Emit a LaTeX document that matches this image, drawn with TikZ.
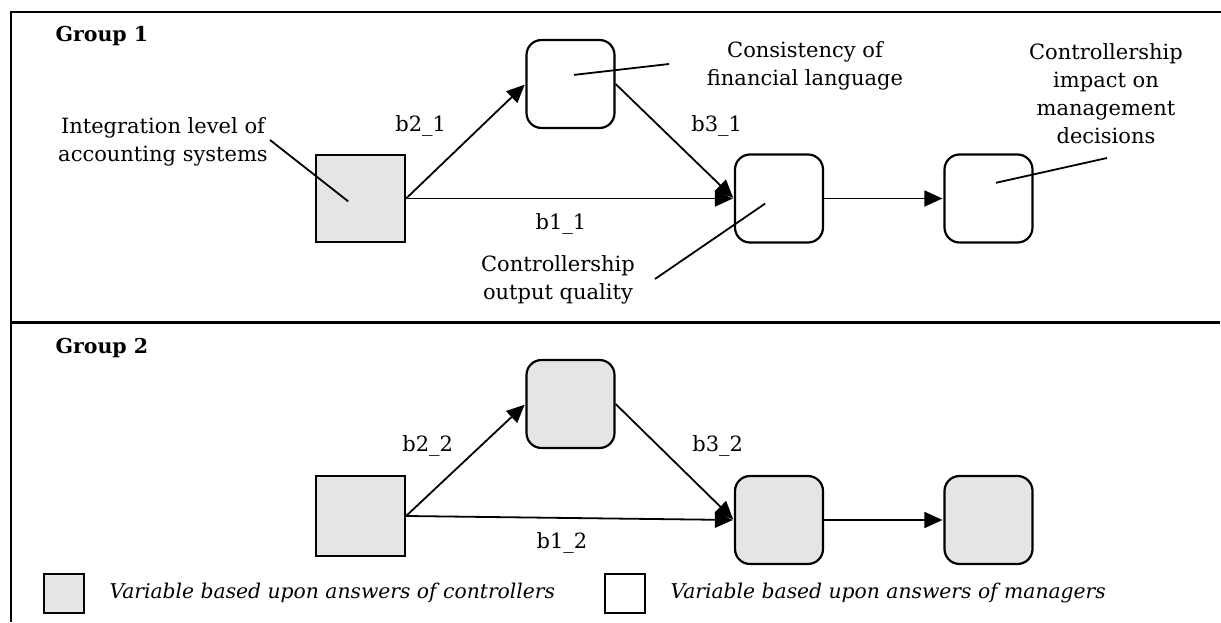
\documentclass[tikz,border=0pt]{standalone}
\usepackage{fontspec}
\setmainfont{DejaVu Serif}
\usetikzlibrary{arrows.meta}
\usetikzlibrary{positioning}

\begin{document}
\begin{tikzpicture}[x=1pt,y=-1pt,shorten >=1pt,on grid,
    font=\fontsize{21}{28}\selectfont,
    ctrlvar/.style={draw,line width=2.2pt,fill=black!10,minimum width=89pt,minimum height=87pt},
    mgrvar/.style={draw,line width=2.2pt,rounded corners=15pt,minimum width=88pt,minimum height=88pt},
    ctrlmgr/.style={mgrvar,fill=black!10},
    keybox/.style={draw,line width=2.2pt,minimum width=40pt,minimum height=39pt},
    lbl/.style={inner sep=0pt},
    note/.style={align=center,inner sep=0pt},
    keytxt/.style={anchor=west,font=\fontsize{20.3}{28}\selectfont\itshape},
    grptxt/.style={anchor=west,font=\fontsize{20.5}{28}\selectfont\bfseries},
    >={Triangle[length=18pt,width=16pt]}]
    \useasboundingbox (0,0) rectangle (1221,623);
    % frame
    \draw[line width=2pt] (1221,12) -- (11,12) -- (11,623);
    \draw[line width=3pt] (11,322) -- (1221,322);
    \node[grptxt] (grp1) at (52,36) {Group 1};
    \node[grptxt] (grp2) at (52,348) {Group 2};

    % group 1
    \node[ctrlvar] (integ1) at (360.5,198.5) {};
    \node[mgrvar] [above right=114.5pt and 210pt of integ1] (consist1) {};
    \node[mgrvar] [right=418.5pt of integ1] (output1) {};
    \node[mgrvar] [right=209.5pt of output1] (impact1) {};
    \path[->,line width=1.8pt]
    (integ1.east)
    edge node[lbl,xshift=-45pt,yshift=15pt] {b2\_1} (consist1.west)
    edge node[lbl,xshift=-9pt,yshift=-25pt] {b1\_1} (output1.west)
    (consist1.east)
    edge node[lbl,xshift=42pt,yshift=15pt] {b3\_1} (output1.west)
    (output1.east)
    edge (impact1.west);

    % names of the variables
    \node[note] (integtxt) at (163,142) {Integration level of\\accounting systems};
    \node[note] (consisttxt) at (805,66) {Consistency of\\financial language};
    \node[note] (impacttxt) at (1106,94) {Controllership\\impact on\\management\\decisions};
    \node[note] (outputtxt) at (558,280) {Controllership\\output quality};
    \coordinate (intega) at (270,140);
    \coordinate (integb) at (349,202);
    \coordinate (consista) at (669,64);
    \coordinate (consistb) at (573,75);
    \coordinate (impacta) at (1107,158);
    \coordinate (impactb) at (995,183);
    \coordinate (outputa) at (655,279);
    \coordinate (outputb) at (766,203);
    \draw[line width=1.8pt] (intega) -- (integb);
    \draw[line width=1.8pt] (consista) -- (consistb);
    \draw[line width=1.8pt] (impacta) -- (impactb);
    \draw[line width=1.8pt] (outputa) -- (outputb);

    % group 2
    \node[ctrlvar,minimum height=80pt] (integ2) at (360.5,516) {};
    \node[ctrlmgr] [above right=112pt and 210pt of integ2] (consist2) {};
    \node[ctrlmgr] [below right=4pt and 418.5pt of integ2] (output2) {};
    \node[ctrlmgr] [right=209.5pt of output2] (impact2) {};
    \path[->,line width=1.8pt]
    (integ2.east)
    edge node[lbl,xshift=-38pt,yshift=14pt] {b2\_2} (consist2.west)
    edge node[lbl,xshift=-8pt,yshift=-25pt] {b1\_2} (output2.west)
    (consist2.east)
    edge node[lbl,xshift=43pt,yshift=16pt] {b3\_2} (output2.west)
    (output2.east)
    edge (impact2.west);

    % legend
    \node[keybox,fill=black!10] (keyctrl) at (64,593.5) {};
    \node[keytxt] (keyctrltxt) at (106,593) {Variable based upon answers of controllers};
    \node[keybox] (keymgr) at (625,593.5) {};
    \node[keytxt] (keymgrtxt) at (667,593) {Variable based upon answers of managers};
\end{tikzpicture}
\end{document}
